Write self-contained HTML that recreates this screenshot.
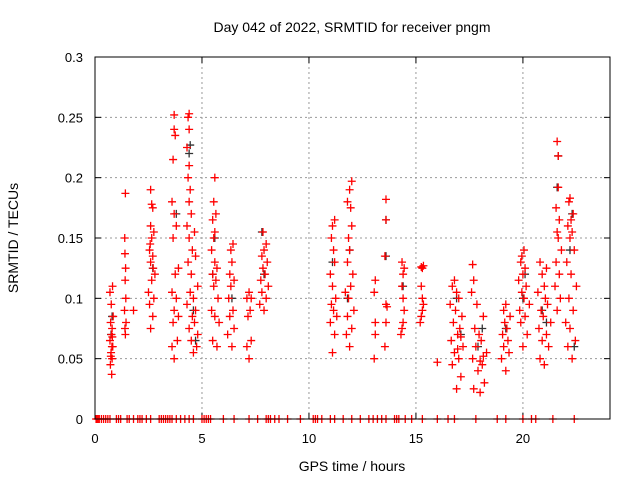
<!DOCTYPE html>
<html><head><meta charset="utf-8"><style>
body{margin:0;background:#fff}
svg{display:block;font-family:"Liberation Sans",sans-serif}
</style></head><body>
<svg id="chart" width="640" height="480" viewBox="0 0 640 480">
<rect width="640" height="480" fill="#fff"/>
<text x="352" y="32" font-size="14" text-anchor="middle" fill="#000">Day 042 of 2022, SRMTID for receiver pngm</text>
<text x="352" y="471" font-size="14" text-anchor="middle" fill="#000">GPS time / hours</text>
<text transform="translate(18,238) rotate(-90)" font-size="14" text-anchor="middle" fill="#000">SRMTID / TECUs</text>
<g id="grid"></g>
<g id="ticks"></g>
<g id="marks"></g>
<rect x="95" y="57" width="515" height="362" fill="none" stroke="#000" stroke-width="1"/>
</svg>
<script>
const xTicks=[0,5,10,15,20];
const yTicks=[0,0.05,0.1,0.15,0.2,0.25,0.3];
const yTickLabels=["0","0.05","0.1","0.15","0.2","0.25","0.3"];
const redTimes=[0.78,0.72,0.8,0.75,0.83,0.7,0.77,0.8,0.73,0.85,0.76,0.7,0.82,0.79,0.74,0.81,
1.42,1.4,1.45,1.38,1.44,1.41,1.43,1.4,1.39,1.42,1.8,
2.6,2.7,2.55,2.75,2.5,2.65,2.8,2.6,2.7,2.55,2.65,2.75,2.6,2.7,2.65,2.6,2.72,2.58,
3.7,3.6,3.85,3.65,3.9,3.7,3.8,3.6,3.75,3.9,3.65,3.8,3.7,3.6,3.65,3.75,3.7,3.7,
4.6,4.75,4.5,4.8,4.4,4.65,4.55,4.7,4.3,4.6,4.45,4.8,4.5,4.35,4.7,4.55,4.4,4.65,4.3,4.5,4.4,4.45,4.35,4.4,4.3,4.4,4.35,4.4,
5.7,5.5,5.8,5.6,5.45,5.75,5.55,5.65,5.5,5.7,5.6,5.45,5.55,5.6,5.5,5.65,5.55,5.6,
6.4,6.2,6.5,6.3,6.45,6.25,6.35,6.5,6.3,6.4,6.35,6.45,
7.2,7.1,7.3,7.15,7.25,7.3,7.1,7.2,
7.9,7.7,8.0,7.8,8.1,7.75,7.95,7.85,8.05,7.8,7.9,8.0,7.85,
11.1,11.2,11.0,11.3,11.15,11.05,11.25,11.1,11.0,11.2,11.15,11.05,11.1,11.2,
11.9,11.75,12.0,11.8,12.1,11.85,11.7,11.95,12.05,11.8,11.9,11.85,12.0,11.95,11.8,11.9,12.0,
13.05,13.1,13.1,13.05,13.1,
13.55,13.6,13.65,13.6,13.55,13.6,13.6,
14.3,14.35,14.4,14.45,14.4,14.35,14.4,14.45,14.35,
15.2,15.25,15.3,15.35,15.3,15.25,15.3,15.35,15.25,
16.0,
16.9,17.1,16.7,17.0,16.8,17.2,16.65,16.95,17.05,16.75,17.15,16.85,16.6,17.0,16.9,16.7,16.8,17.1,16.95,
18.0,17.7,18.2,17.9,18.1,17.65,18.3,17.8,18.05,17.95,17.75,18.15,17.85,17.6,17.7,17.65,18.0,18.15,
19.2,19.0,19.35,19.1,19.3,19.05,19.25,19.15,19.4,19.1,19.2,
20.0,20.2,19.9,20.1,19.85,20.3,20.05,19.95,20.15,19.8,20.0,20.1,19.9,19.95,20.05,
21.0,20.8,21.2,20.9,21.1,20.75,21.3,20.95,20.85,21.15,21.05,20.7,21.0,20.9,21.1,20.8,
21.6,21.75,21.5,21.7,21.55,21.8,21.65,21.6,21.7,21.55,21.65,21.65,21.6,
22.3,22.1,22.45,22.2,22.0,22.35,22.15,22.5,22.25,22.05,22.4,22.2,22.3,22.1,22.25,22.35,22.15,22.2];
const redValues=[0.037,0.045,0.05,0.055,0.06,0.065,0.07,0.075,0.08,0.085,0.095,0.105,0.11,0.06,0.052,0.068,
0.07,0.075,0.08,0.09,0.1,0.115,0.125,0.137,0.15,0.187,0.09,
0.075,0.085,0.095,0.1,0.105,0.115,0.12,0.13,0.135,0.14,0.15,0.155,0.16,0.175,0.178,0.19,0.125,0.145,
0.05,0.06,0.065,0.08,0.085,0.09,0.1,0.105,0.12,0.125,0.15,0.16,0.17,0.18,0.215,0.235,0.24,0.252,
0.055,0.06,0.065,0.07,0.075,0.08,0.085,0.09,0.095,0.1,0.105,0.11,0.12,0.13,0.135,0.14,0.15,0.155,0.16,0.17,0.18,0.19,0.2,0.21,0.225,0.24,0.25,0.253,
0.06,0.065,0.08,0.085,0.09,0.1,0.11,0.115,0.12,0.125,0.13,0.14,0.15,0.155,0.165,0.17,0.18,0.2,
0.06,0.07,0.075,0.085,0.09,0.1,0.11,0.115,0.12,0.13,0.14,0.145,
0.05,0.06,0.065,0.085,0.09,0.1,0.1,0.105,
0.09,0.095,0.1,0.105,0.11,0.115,0.12,0.125,0.13,0.135,0.14,0.145,0.155,
0.055,0.07,0.08,0.085,0.09,0.095,0.1,0.11,0.12,0.13,0.14,0.15,0.16,0.165,
0.06,0.07,0.075,0.085,0.09,0.1,0.105,0.11,0.12,0.13,0.14,0.15,0.16,0.175,0.18,0.19,0.197,
0.05,0.07,0.08,0.105,0.115,
0.06,0.08,0.093,0.095,0.135,0.165,0.182,
0.07,0.075,0.08,0.09,0.1,0.11,0.12,0.125,0.13,
0.08,0.085,0.09,0.095,0.1,0.11,0.125,0.127,0.126,
0.047,
0.025,0.035,0.045,0.05,0.055,0.06,0.065,0.07,0.075,0.08,0.085,0.09,0.095,0.1,0.105,0.11,0.115,0.068,0.058,
0.022,0.025,0.03,0.04,0.045,0.05,0.055,0.06,0.065,0.07,0.075,0.085,0.095,0.105,0.115,0.128,0.048,0.052,
0.04,0.05,0.055,0.06,0.065,0.07,0.075,0.08,0.085,0.09,0.095,
0.06,0.07,0.08,0.085,0.09,0.095,0.1,0.105,0.11,0.115,0.12,0.125,0.13,0.135,0.14,
0.045,0.05,0.06,0.065,0.07,0.075,0.08,0.085,0.09,0.095,0.1,0.105,0.11,0.12,0.125,0.13,
0.09,0.1,0.11,0.12,0.13,0.14,0.15,0.155,0.165,0.175,0.192,0.218,0.23,
0.05,0.06,0.065,0.075,0.08,0.09,0.1,0.11,0.12,0.13,0.14,0.15,0.155,0.16,0.165,0.17,0.18,0.183];
const blackTimes=[0.8,0.75,2.7,3.8,4.4,4.45,4.7,4.6,5.6,5.5,6.4,7.8,7.9,11.1,11.8,11.9,13.6,13.6,14.4,16.9,17.1,17.9,18.1,19.2,20.1,20.0,20.9,21.1,21.6,21.65,22.3,22.4,22.2];
const blackValues=[0.085,0.07,0.125,0.17,0.22,0.227,0.065,0.09,0.15,0.12,0.1,0.155,0.12,0.13,0.1,0.14,0.165,0.135,0.11,0.1,0.07,0.06,0.075,0.075,0.12,0.1,0.09,0.08,0.192,0.218,0.17,0.06,0.14];
const zeroTimes=[0.05,0.1,0.15,0.2,0.3,0.4,0.5,0.6,0.7,1.0,1.1,1.2,1.5,1.6,1.8,2.0,2.1,2.2,2.4,2.6,3.0,3.1,3.2,3.3,3.4,3.5,3.6,3.8,4.0,4.2,4.4,4.6,5.0,5.1,5.2,5.3,5.4,6.0,6.5,7.2,7.6,8.0,8.1,8.2,8.4,8.6,9.0,9.6,10.2,10.3,10.4,10.6,11.0,11.2,11.6,12.0,12.4,12.8,13.0,13.2,13.4,13.6,14.0,14.1,14.2,14.5,14.8,15.3,16.0,16.5,16.8,17.8,18.8,19.2,20.0,20.4,20.6,21.4,22.4];
const x0=95,x1=610,y0=419,y1=57,xMax=24.07,yMax=0.3;
const X=t=>x0+t/xMax*(x1-x0), Y=v=>y0-v/yMax*(y0-y1);
const NS="http://www.w3.org/2000/svg";
function mk(tag,attrs,parent){const e=document.createElementNS(NS,tag);for(const k in attrs)e.setAttribute(k,attrs[k]);parent.appendChild(e);return e;}
const grid=document.getElementById('grid'),ticks=document.getElementById('ticks'),marks=document.getElementById('marks');
xTicks.forEach(t=>{
 if(t>0){const g=mk('line',{x1:X(t),x2:X(t),y1:y1,y2:y0,stroke:'#999','stroke-dasharray':'2,3'},grid);
 
 }
 mk('line',{x1:X(t),x2:X(t),y1:y0,y2:y0-6,stroke:'#000'},ticks);
 mk('line',{x1:X(t),x2:X(t),y1:y1,y2:y1+6,stroke:'#000'},ticks);
 const l=mk('text',{x:X(t),y:443,'font-size':13,'text-anchor':'middle'},ticks);l.textContent=String(t);
 
 
});
yTicks.forEach((v,i)=>{
 if(v>0&&v<yMax){const g=mk('line',{x1:x0,x2:x1,y1:Y(v),y2:Y(v),stroke:'#999','stroke-dasharray':'2,3'},grid);
 
 }
 mk('line',{x1:x0,x2:x0+6,y1:Y(v),y2:Y(v),stroke:'#000'},ticks);
 mk('line',{x1:x1,x2:x1-6,y1:Y(v),y2:Y(v),stroke:'#000'},ticks);
 const l=mk('text',{x:83,y:Y(v)+5,'font-size':13,'text-anchor':'end'},ticks);l.textContent=yTickLabels[i];
 
 
});
function plus(t,v,col,name){
 const x=X(t),y=Y(v);
 const p=mk('path',{d:`M${x-4},${y}H${x+4}M${x},${y-4}V${y+4}`,stroke:col,'stroke-width':1.3,fill:'none'},marks);
 
 
}
blackTimes.forEach((t,i)=>plus(t,blackValues[i],'#333','black-point'));
redTimes.forEach((t,i)=>plus(t,redValues[i],'#f00','red-point'));
zeroTimes.forEach(t=>plus(t,0,'#f00','zero-point'));
</script>
</body></html>
